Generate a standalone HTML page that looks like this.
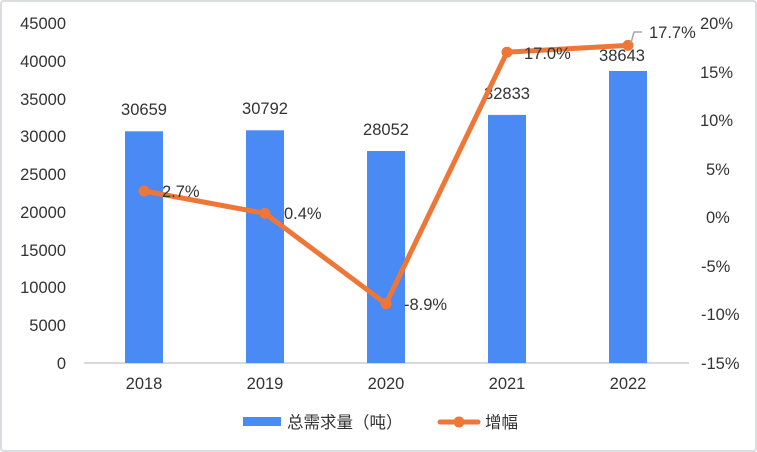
<!DOCTYPE html>
<html><head><meta charset="utf-8"><style>
html,body{margin:0;padding:0;background:#fff}
svg{display:block}
text{font-family:"Liberation Sans","Noto Sans CJK SC",sans-serif;fill:#333;font-size:16.5px}
</style></head><body>
<svg width="757" height="452" viewBox="0 0 757 452">
<rect x="1" y="1" width="755" height="450" rx="3" fill="#fff" stroke="#d9dde0" stroke-width="2"/>
<g text-anchor="end">
<text x="66" y="29">45000</text>
<text x="66" y="67">40000</text>
<text x="66" y="105">35000</text>
<text x="66" y="142">30000</text>
<text x="66" y="180">25000</text>
<text x="66" y="218">20000</text>
<text x="66" y="256">15000</text>
<text x="66" y="293">10000</text>
<text x="66" y="331">5000</text>
<text x="66" y="369">0</text>
</g>
<g text-anchor="start">
<text x="700" y="29">20%</text>
<text x="700" y="78">15%</text>
<text x="700" y="126">10%</text>
<text x="706" y="175">5%</text>
<text x="706" y="223">0%</text>
<text x="701" y="272">-5%</text>
<text x="701" y="320">-10%</text>
<text x="701" y="369">-15%</text>
</g>
<line x1="84" y1="363" x2="689" y2="363" stroke="#d9d9d9" stroke-width="2"/>
<g fill="#4a8af4">
<rect x="125" y="131.3" width="38" height="231.7"/>
<rect x="246" y="130.3" width="38" height="232.7"/>
<rect x="367" y="151.0" width="38" height="212.0"/>
<rect x="488" y="114.9" width="38" height="248.1"/>
<rect x="609" y="71.0" width="38" height="292.0"/>
</g>
<g text-anchor="middle">
<text x="144" y="115">30659</text>
<text x="265" y="114">30792</text>
<text x="386" y="135">28052</text>
<text x="507" y="99">32833</text>
<text x="622" y="61">38643</text>
<text x="144" y="389">2018</text>
<text x="265" y="389">2019</text>
<text x="386" y="389">2020</text>
<text x="507" y="389">2021</text>
<text x="628" y="389">2022</text>
</g>
<polyline points="144,191 265,213.4 386,303.8 507,52.2 628,45.4" fill="none" stroke="#ee7738" stroke-width="5" stroke-linejoin="round"/>
<g fill="#ee7738">
<circle cx="144" cy="191" r="5.5"/><circle cx="265" cy="213.4" r="5.5"/><circle cx="386" cy="303.8" r="5.5"/><circle cx="507" cy="52.2" r="5.5"/><circle cx="628" cy="45.4" r="5.5"/>
</g>
<polyline points="631,43 634,32 642,32" fill="none" stroke="#a6a6a6" stroke-width="1.5"/>
<text x="162" y="197">2.7%</text>
<text x="284" y="219">0.4%</text>
<text x="404" y="310">-8.9%</text>
<text x="524" y="59">17.0%</text>
<text x="649" y="38">17.7%</text>
<rect x="243" y="417" width="38" height="9" fill="#4a8af4"/>
<text x="287" y="428">总需求量（吨）</text>
<line x1="440" y1="422" x2="478" y2="422" stroke="#ee7738" stroke-width="5" stroke-linecap="round"/>
<circle cx="459" cy="422" r="5.5" fill="#ee7738"/>
<text x="485" y="428">增幅</text>
</svg>
</body></html>
